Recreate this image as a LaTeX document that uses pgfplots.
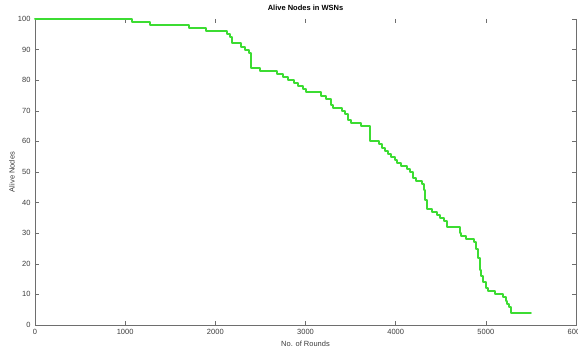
\documentclass[border=0pt]{standalone}
\usepackage{fontspec}
\setmainfont{Liberation Sans}
\usepackage{pgfplots}
\pgfplotsset{compat=1.18}
\definecolor{linegreen}{RGB}{60,220,50}
\definecolor{axgray}{RGB}{110,110,110}
\definecolor{lblgray}{RGB}{60,60,60}
\begin{document}
\begin{tikzpicture}
\begin{axis}[
  scale only axis,
  width=541pt, height=306pt,
  xmin=0, xmax=6000, ymin=0, ymax=100,
  xtick={0,1000,...,6000}, ytick={0,10,...,100},
  /pgf/number format/assume math mode=true,
  /pgf/number format/1000 sep={},
  scaled x ticks=false,
  tick align=inside,
  major tick length=4pt,
  tick style={axgray, line width=0.6pt},
  axis line style={draw=none},
  ticklabel style={font=\fontsize{7.5}{9}\selectfont, text=lblgray},
  xticklabel style={yshift=-1pt},
  yticklabel style={xshift=-1pt},
  clip=false,
]
\coordinate (SW) at (rel axis cs:0,0);
\coordinate (NE) at (rel axis cs:1,1);
\draw[axgray, line width=0.8pt] (rel axis cs:0,1) -- (rel axis cs:0,0) -- (rel axis cs:1,0) -- (rel axis cs:1,1);
\node[font=\bfseries\fontsize{7.5}{9}\selectfont] at ([yshift=11pt]rel axis cs:0.5,1) {Alive Nodes in WSNs};
\node[font=\fontsize{7.5}{9}\selectfont, text=lblgray] at ([yshift=-19pt]rel axis cs:0.5,0) {No. of Rounds};
\node[font=\fontsize{7.5}{9}\selectfont, text=lblgray, rotate=90] at ([xshift=-23pt]rel axis cs:0,0.5) {Alive Nodes};
\addplot[const plot, linegreen, line width=2pt, line join=round, line cap=round] coordinates {
(0,100) (1080,99) (1270,98) (1710,97) (1900,96) (2130,95) (2160,94) (2190,92)
(2280,91) (2330,90) (2370,89) (2390,84) (2500,83) (2680,82) (2750,81) (2810,80)
(2870,79) (2920,78) (2970,77) (3000,76) (3170,75) (3230,74) (3280,72) (3300,71)
(3410,70) (3440,69) (3470,67) (3500,66) (3610,65) (3710,60) (3820,59) (3850,58)
(3880,57) (3920,56) (3950,55) (3990,54) (4020,53) (4060,52) (4130,51) (4160,50)
(4190,48) (4230,47) (4290,46) (4310,44) (4330,41) (4350,38) (4400,37) (4460,36)
(4490,35) (4540,34) (4570,32) (4710,30) (4730,29) (4780,28) (4870,27) (4890,25)
(4910,22) (4930,18) (4950,16) (4970,14) (5000,12) (5020,11) (5100,10) (5190,9)
(5220,8) (5240,7) (5260,6) (5280,4) (5500,4)
};
\end{axis}
\pgfresetboundingbox
\path ([shift={(-35pt,-24pt)}]SW) rectangle ([shift={(2pt,19pt)}]NE);
\end{tikzpicture}
\end{document}
